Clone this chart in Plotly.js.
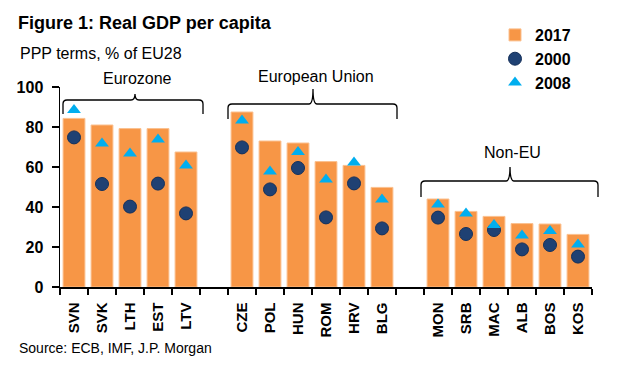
<!DOCTYPE html>
<html>
<head>
<meta charset="utf-8">
<script src="https://cdn.plot.ly/plotly-3.0.1.min.js"></script>
<style>html,body{margin:0;padding:0;background:#fff;}#chart{width:620px;height:365px;}</style>
</head>
<body>
<div id="chart"></div>
<script>
// ---- data ----
var categories = ['SVN','SVK','LTH','EST','LTV',' ','CZE','POL','HUN','ROM','HRV','BLG','  ','MON','SRB','MAC','ALB','BOS','KOS'];
var countries = ['SVN','SVK','LTH','EST','LTV','CZE','POL','HUN','ROM','HRV','BLG','MON','SRB','MAC','ALB','BOS','KOS'];
var gdp2017 = [84.3, 81.0, 79.2, 79.2, 67.5, 87.5, 73.0, 72.0, 62.7, 60.8, 49.8, 44.0, 37.8, 35.3, 31.7, 31.5, 26.3];
var gdp2000 = [74.8, 51.5, 40.2, 51.7, 36.8, 69.8, 48.8, 59.5, 34.8, 51.8, 29.3, 34.7, 26.5, 28.5, 18.8, 21.0, 15.2];
var gdp2008 = [88.5, 71.8, 66.8, 73.8, 60.7, 83.2, 57.8, 67.5, 53.8, 62.3, 43.8, 41.3, 36.8, 31.0, 25.8, 28.0, 21.3];
var yTicks = [0, 20, 40, 60, 80, 100];
var groupLabels = ['Eurozone', 'European Union', 'Non-EU'];

// ---- layout helpers (pixel -> paper) ----
var W = 620, H = 365, ML = 60, MR = 28, MT = 87, MB = 78;
var PW = W - ML - MR, PH = H - MT - MB;
function px(x){ return (x - ML) / PW; }
function py(y){ return (H - MB - y) / PH; }
var FONT = 'Liberation Sans, Arial, Helvetica, sans-serif';

function brace(x0, x1, xm, yh, yb, yp){
  var r = 4;
  var p = 'M' + px(x0) + ',' + py(yb) +
    ' L' + px(x0) + ',' + py(yh + r) +
    ' Q' + px(x0) + ',' + py(yh) + ' ' + px(x0 + r) + ',' + py(yh) +
    ' L' + px(xm - r) + ',' + py(yh) +
    ' Q' + px(xm) + ',' + py(yh) + ' ' + px(xm) + ',' + py(yp) +
    ' Q' + px(xm) + ',' + py(yh) + ' ' + px(xm + r) + ',' + py(yh) +
    ' L' + px(x1 - r) + ',' + py(yh) +
    ' Q' + px(x1) + ',' + py(yh) + ' ' + px(x1) + ',' + py(yh + r) +
    ' L' + px(x1) + ',' + py(yb);
  return {type:'path', xref:'paper', yref:'paper', path:p, line:{color:'#000', width:1.3}};
}

var traces = [
  {type:'bar', name:'2017', x:countries, y:gdp2017, width:0.78,
   marker:{color:'#F79646', line:{color:'#FBC08F', width:1}}, cliponaxis:false},
  {type:'scatter', mode:'markers', name:'2000', x:countries, y:gdp2000, cliponaxis:false,
   marker:{symbol:'circle', size:13, color:'#1F4173', line:{color:'#15305A', width:1}}},
  {type:'scatter', mode:'markers', name:'2008', x:countries, y:gdp2008, cliponaxis:false,
   marker:{symbol:'triangle-up', size:12, color:'#00AEEF', line:{width:0}}}
];

var layout = {
  width: W, height: H,
  margin:{l:ML, r:MR, t:MT, b:MB, pad:0},
  paper_bgcolor:'#fff', plot_bgcolor:'#fff',
  font:{family:FONT, color:'#000'},
  title:{text:'Figure 1: Real GDP per capita', xref:'container', yref:'container',
         x:18/W, xanchor:'left', y:1-23/H, yanchor:'middle',
         font:{family:FONT, size:18, weight:'bold', color:'#000'}},
  showlegend:true,
  legend:{x:px(495), xanchor:'left', y:py(18), yanchor:'top', bgcolor:'rgba(0,0,0,0)',
          font:{family:FONT, size:16, weight:'bold', color:'#000'}, traceorder:'normal'},
  xaxis:{type:'category', categoryorder:'array', categoryarray:categories,
         range:[-0.5, categories.length - 0.5], tickson:'boundaries',
         ticks:'outside', ticklen:6, tickcolor:'#000', tickwidth:1.3,
         showline:true, linecolor:'#000', linewidth:1.5, showgrid:false, zeroline:false,
         tickangle:-90, ticklabelstandoff:8,
         tickfont:{family:FONT, size:15, weight:'bold', color:'#000'}, fixedrange:true},
  yaxis:{range:[0,100], tickvals:yTicks, ticktext:yTicks.map(String),
         ticks:'outside', ticklen:7, tickcolor:'#000', tickwidth:1.3,
         showline:true, linecolor:'#000', linewidth:1.5, showgrid:false, zeroline:false,
         ticklabelstandoff:5,
         tickfont:{family:FONT, size:16, weight:'bold', color:'#000'}, fixedrange:true},
  shapes:[
    brace(63, 203, 135, 100, 114, 94),
    brace(228, 397, 313, 104, 119, 89),
    brace(421, 598, 510, 181, 197, 167)
  ],
  annotations:[
    {text:'PPP terms, % of EU28', xref:'paper', yref:'paper', x:px(18), y:py(54),
     xanchor:'left', yanchor:'middle', showarrow:false, font:{family:FONT, size:16, color:'#000'}},
    {text:'Source: ECB, IMF, J.P. Morgan', xref:'paper', yref:'paper', x:px(17), y:py(348),
     xanchor:'left', yanchor:'middle', showarrow:false, font:{family:FONT, size:14, color:'#000'}},
    {text:groupLabels[0], xref:'paper', yref:'paper', x:px(137), y:py(78),
     xanchor:'center', yanchor:'middle', showarrow:false, font:{family:FONT, size:16, color:'#000'}},
    {text:groupLabels[1], xref:'paper', yref:'paper', x:px(316), y:py(76),
     xanchor:'center', yanchor:'middle', showarrow:false, font:{family:FONT, size:16, color:'#000'}},
    {text:groupLabels[2], xref:'paper', yref:'paper', x:px(512), y:py(152),
     xanchor:'center', yanchor:'middle', showarrow:false, font:{family:FONT, size:16, color:'#000'}}
  ]
};

Plotly.newPlot('chart', traces, layout, {displayModeBar:false, staticPlot:true});
</script>
</body>
</html>
